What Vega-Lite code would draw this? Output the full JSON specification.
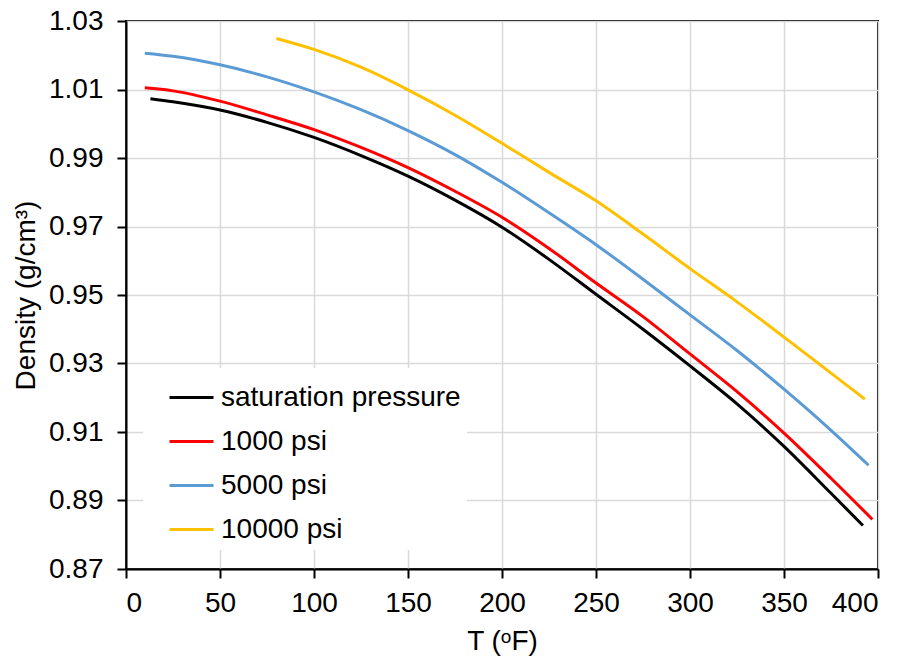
{
  "$schema": "https://vega.github.io/schema/vega-lite/v6.json",
  "width": 752,
  "height": 548,
  "autosize": {"type": "none"},
  "padding": {"left": 126, "top": 21, "right": 29, "bottom": 95},
  "background": "white",
  "config": {
    "font": "Liberation Sans",
    "view": {"stroke": "black", "strokeWidth": 2},
    "axis": {
      "gridColor": "#D9D9D9",
      "gridWidth": 1.5,
      "domainColor": "black",
      "domainWidth": 2,
      "tickColor": "black",
      "tickWidth": 2,
      "tickSize": 9,
      "labelFont": "Liberation Sans",
      "labelFontSize": 28,
      "labelColor": "#000000",
      "titleFont": "Liberation Sans",
      "titleFontSize": 28,
      "titleFontWeight": "normal",
      "titleColor": "#000000"
    }
  },
  "data": {
    "values": [
      {"T": 13, "rho": 1.0073, "series": "saturation pressure"},
      {"T": 25, "rho": 1.0064, "series": "saturation pressure"},
      {"T": 50, "rho": 1.0040, "series": "saturation pressure"},
      {"T": 75, "rho": 1.0004, "series": "saturation pressure"},
      {"T": 100, "rho": 0.9960, "series": "saturation pressure"},
      {"T": 125, "rho": 0.9907, "series": "saturation pressure"},
      {"T": 150, "rho": 0.9847, "series": "saturation pressure"},
      {"T": 175, "rho": 0.9777, "series": "saturation pressure"},
      {"T": 200, "rho": 0.9698, "series": "saturation pressure"},
      {"T": 225, "rho": 0.9604, "series": "saturation pressure"},
      {"T": 250, "rho": 0.9502, "series": "saturation pressure"},
      {"T": 275, "rho": 0.9400, "series": "saturation pressure"},
      {"T": 300, "rho": 0.9293, "series": "saturation pressure"},
      {"T": 325, "rho": 0.9182, "series": "saturation pressure"},
      {"T": 350, "rho": 0.9058, "series": "saturation pressure"},
      {"T": 375, "rho": 0.8921, "series": "saturation pressure"},
      {"T": 392, "rho": 0.8827, "series": "saturation pressure"},
      {"T": 10, "rho": 1.0105, "series": "1000 psi"},
      {"T": 25, "rho": 1.0096, "series": "1000 psi"},
      {"T": 50, "rho": 1.0066, "series": "1000 psi"},
      {"T": 75, "rho": 1.0026, "series": "1000 psi"},
      {"T": 100, "rho": 0.9983, "series": "1000 psi"},
      {"T": 125, "rho": 0.9931, "series": "1000 psi"},
      {"T": 150, "rho": 0.9872, "series": "1000 psi"},
      {"T": 175, "rho": 0.9803, "series": "1000 psi"},
      {"T": 200, "rho": 0.9727, "series": "1000 psi"},
      {"T": 225, "rho": 0.9636, "series": "1000 psi"},
      {"T": 250, "rho": 0.9535, "series": "1000 psi"},
      {"T": 275, "rho": 0.9437, "series": "1000 psi"},
      {"T": 300, "rho": 0.9328, "series": "1000 psi"},
      {"T": 325, "rho": 0.9218, "series": "1000 psi"},
      {"T": 350, "rho": 0.9097, "series": "1000 psi"},
      {"T": 375, "rho": 0.8965, "series": "1000 psi"},
      {"T": 397, "rho": 0.8845, "series": "1000 psi"},
      {"T": 10, "rho": 1.0206, "series": "5000 psi"},
      {"T": 25, "rho": 1.0197, "series": "5000 psi"},
      {"T": 50, "rho": 1.0172, "series": "5000 psi"},
      {"T": 75, "rho": 1.0137, "series": "5000 psi"},
      {"T": 100, "rho": 1.0093, "series": "5000 psi"},
      {"T": 125, "rho": 1.0041, "series": "5000 psi"},
      {"T": 150, "rho": 0.9980, "series": "5000 psi"},
      {"T": 175, "rho": 0.9910, "series": "5000 psi"},
      {"T": 200, "rho": 0.9829, "series": "5000 psi"},
      {"T": 225, "rho": 0.9740, "series": "5000 psi"},
      {"T": 250, "rho": 0.9647, "series": "5000 psi"},
      {"T": 275, "rho": 0.9546, "series": "5000 psi"},
      {"T": 300, "rho": 0.9442, "series": "5000 psi"},
      {"T": 325, "rho": 0.9338, "series": "5000 psi"},
      {"T": 350, "rho": 0.9225, "series": "5000 psi"},
      {"T": 375, "rho": 0.9105, "series": "5000 psi"},
      {"T": 395, "rho": 0.9003, "series": "5000 psi"},
      {"T": 80, "rho": 1.0249, "series": "10000 psi"},
      {"T": 100, "rho": 1.0217, "series": "10000 psi"},
      {"T": 125, "rho": 1.0165, "series": "10000 psi"},
      {"T": 150, "rho": 1.0099, "series": "10000 psi"},
      {"T": 175, "rho": 1.0025, "series": "10000 psi"},
      {"T": 200, "rho": 0.9943, "series": "10000 psi"},
      {"T": 225, "rho": 0.9858, "series": "10000 psi"},
      {"T": 250, "rho": 0.9775, "series": "10000 psi"},
      {"T": 275, "rho": 0.9678, "series": "10000 psi"},
      {"T": 300, "rho": 0.9577, "series": "10000 psi"},
      {"T": 325, "rho": 0.9480, "series": "10000 psi"},
      {"T": 350, "rho": 0.9377, "series": "10000 psi"},
      {"T": 375, "rho": 0.9272, "series": "10000 psi"},
      {"T": 393, "rho": 0.9196, "series": "10000 psi"}
    ]
  },
  "mark": {"type": "line", "strokeWidth": 3, "interpolate": "monotone", "clip": true},
  "encoding": {
    "x": {
      "field": "T",
      "type": "quantitative",
      "scale": {"domain": [0, 400], "nice": false},
      "axis": {
        "title": "T (ᵒF)",
        "values": [0, 50, 100, 150, 200, 250, 300, 350, 400],
        "labelPadding": 11,
        "titlePadding": 10
      }
    },
    "y": {
      "field": "rho",
      "type": "quantitative",
      "scale": {"domain": [0.87, 1.03], "nice": false, "zero": false},
      "axis": {
        "title": "Density (g/cm³)",
        "values": [0.87, 0.89, 0.91, 0.93, 0.95, 0.97, 0.99, 1.01, 1.03],
        "format": ".2f",
        "labelPadding": 14,
        "titlePadding": 8
      }
    },
    "color": {
      "field": "series",
      "type": "nominal",
      "scale": {
        "domain": ["saturation pressure", "1000 psi", "5000 psi", "10000 psi"],
        "range": ["#000000", "#FF0000", "#5B9BD5", "#FFC000"]
      },
      "legend": {
        "title": null,
        "orient": "none",
        "legendX": 17,
        "legendY": 347,
        "fillColor": "white",
        "padding": 6,
        "symbolType": "stroke",
        "symbolSize": 1936,
        "symbolStrokeWidth": 3,
        "symbolOffset": 19,
        "labelOffset": 6,
        "labelFont": "Liberation Sans",
        "labelFontSize": 28,
        "labelColor": "#000000",
        "labelLimit": 400,
        "rowPadding": 6
      }
    }
  }
}
